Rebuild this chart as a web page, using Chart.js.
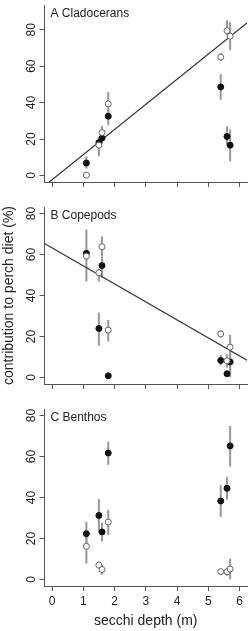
<!DOCTYPE html>
<html>
<head>
<meta charset="utf-8">
<script src="https://cdn.jsdelivr.net/npm/chart.js@4"></script>
<style>
  body { margin: 0; background: #fff; }
  .panel { position: absolute; left: 0; }
</style>
</head>
<body>
<canvas id="chartA" class="panel" style="top:0px" width="252" height="202"></canvas>
<canvas id="chartB" class="panel" style="top:202px" width="252" height="202"></canvas>
<canvas id="chartC" class="panel" style="top:404px" width="252" height="227"></canvas>
<script>
// secchi depth of the 7 lakes (m)
const secchi = [1.1, 1.5, 1.6, 1.8, 5.4, 5.6, 5.7];
const xTicks = [0, 1, 2, 3, 4, 5, 6];
const yTicks = [0, 20, 40, 60, 80];
const panelNames = ["A Cladocerans", "B Copepods", "C Benthos"];
const yTitle = "contribution to perch diet (%)";
const xTitle = "secchi depth (m)";

// A - cladocerans
const cladFilled = [6.8, 18, 20.5, 32.5, 48.6, 21.4, 16.6];
const cladFilledLo = [4, 15.5, 17.5, 27.7, 41.7, 17, 8];
const cladFilledHi = [10.2, 21, 24.5, 35.7, 55.4, 26.8, 25];
const cladOpen = [0.2, 16.6, 23.6, 39.3, 65, 79.5, 76.5];
const cladOpenLo = [0, 10.7, 20.5, 34, 63, 77.5, 69];
const cladOpenHi = [0.4, 20.5, 27, 45.6, 67, 85, 84];
const cladFit = [-2.4, 13.8]; // intercept, slope

// B - copepods
const copeFilled = [60.6, 23.9, 54.6, 0.8, 8.3, 1.8, 7.6];
const copeFilledLo = [47, 15.6, 49, 0.3, 6, 0.8, 3];
const copeFilledHi = [72, 31.5, 59, 1.2, 10.8, 2.8, 12];
const copeOpen = [59.2, 51.1, 63.8, 23.1, 21.2, 8.1, 14.8];
const copeOpenLo = [57.5, 47, 59.5, 17.7, 19.5, 5, 0];
const copeOpenHi = [61, 53, 68.6, 27.9, 23, 11, 20.5];
const copeFit = [63.3, -8.8];

// C - benthos
const benFilled = [22.3, 31.2, 23.2, 61.7, 38.3, 44.5, 65.2];
const benFilledLo = [16.9, 23.5, 18.8, 56.1, 30.7, 39.1, 55.3];
const benFilledHi = [28, 39.1, 27.5, 67.2, 45.8, 49.8, 74.7];
const benOpen = [16.2, 7, 4.8, 28, 3.8, 3.7, 5.1];
const benOpenLo = [8, 5.5, 2.5, 21.9, 3, 2, 0];
const benOpenHi = [21.1, 8.5, 7, 33.9, 4.5, 5.5, 10];

const xLim = [-0.24, 6.24];
const fontFam = "'Liberation Sans', Arial, sans-serif";
const inkColor = "#222";
const axisColor = "#555";
const errColor = "#9a9a9a";

const panelLabel = {
    id: "panelLabel",
    afterDraw(chart, args, opts) {
        const ctx = chart.ctx;
        const area = chart.chartArea;
        ctx.save();
        ctx.font = "12px " + fontFam;
        ctx.fillStyle = inkColor;
        ctx.textBaseline = "alphabetic";
        ctx.textAlign = "left";
        ctx.fillText(opts.text, area.left + 6, area.top + 12);
        ctx.restore();
    }
};

function pts(vals) {
    return secchi.map((x, i) => ({x: x, y: vals[i]}));
}
function bars(lo, hi) {
    return secchi.map((x, i) => ({x: x, y: [lo[i], hi[i]]}));
}
function fitLine(fit) {
    return xLim.map((x) => ({x: x, y: fit[0] + fit[1] * x}));
}

function makePanel(id, o) {
    const datasets = [
        {
            type: "bar",
            data: bars(o.filledLo, o.filledHi),
            backgroundColor: errColor,
            barThickness: 1.4,
            grouped: false,
            order: 5,
        },
        {
            type: "bar",
            data: bars(o.openLo, o.openHi),
            backgroundColor: errColor,
            barThickness: 1.4,
            grouped: false,
            order: 4,
        },
        {
            type: "scatter",
            data: pts(o.filled),
            backgroundColor: "#111",
            borderColor: "#111",
            borderWidth: 1,
            pointRadius: 3,
            order: 2,
        },
        {
            type: "scatter",
            data: pts(o.open),
            backgroundColor: "#fff",
            borderColor: "#666",
            borderWidth: 1,
            pointRadius: 3,
            order: 1,
        },
    ];
    if (o.fit) {
        datasets.push({
            type: "line",
            data: fitLine(o.fit),
            borderColor: "#333",
            borderWidth: 1.2,
            pointRadius: 0,
            fill: false,
            order: 3,
        });
    }
    new Chart(document.getElementById(id), {
        type: "scatter",
        data: {datasets: datasets},
        plugins: [panelLabel],
        options: {
            responsive: false,
            animation: false,
            layout: {padding: {top: 1, right: 4.5, left: 0, bottom: 0}},
            scales: {
                x: {
                    type: "linear",
                    offset: false,
                    min: xLim[0],
                    max: xLim[1],
                    afterBuildTicks: (s) => { s.ticks = xTicks.map((v) => ({value: v})); },
                    afterFit: (s) => { s.height = o.xHeight; s.paddingLeft = 0; s.paddingRight = 0; },
                    grid: {offset: false, drawOnChartArea: false, drawTicks: true, tickLength: 5, color: axisColor},
                    border: {display: true, color: axisColor, width: 1},
                    ticks: {
                        display: o.xLabels,
                        color: inkColor,
                        padding: 3,
                        maxRotation: 0,
                        font: {family: fontFam, size: 12},
                    },
                    title: {
                        display: o.xLabels,
                        text: xTitle,
                        color: inkColor,
                        padding: {top: 0, bottom: 1},
                        font: {family: fontFam, size: 14},
                    },
                },
                y: {
                    type: "linear",
                    beginAtZero: false,
                    min: o.yLim[0],
                    max: o.yLim[1],
                    afterBuildTicks: (s) => { s.ticks = yTicks.map((v) => ({value: v})); },
                    afterFit: (s) => { s.width = 44.5; s.paddingTop = 0; s.paddingBottom = 0; },
                    grid: {drawOnChartArea: false, drawTicks: true, tickLength: 5, color: axisColor},
                    border: {display: true, color: axisColor, width: 1},
                    ticks: {
                        color: inkColor,
                        minRotation: 90,
                        maxRotation: 90,
                        crossAlign: "center",
                        padding: 1.5,
                        autoSkip: false,
                        font: {family: fontFam, size: 12},
                    },
                    title: {
                        display: o.yTitle,
                        text: yTitle,
                        color: inkColor,
                        padding: {top: 0.6, bottom: 0},
                        font: {family: fontFam, size: 14},
                    },
                },
            },
            plugins: {
                legend: {display: false},
                tooltip: {enabled: false},
                panelLabel: {text: o.name},
            },
        },
    });
}

makePanel("chartA", {
    name: panelNames[0], yLim: [-3.6, 93.6], fit: cladFit, xLabels: false, yTitle: false, xHeight: 20,
    filled: cladFilled, filledLo: cladFilledLo, filledHi: cladFilledHi,
    open: cladOpen, openLo: cladOpenLo, openHi: cladOpenHi,
});
makePanel("chartB", {
    name: panelNames[1], yLim: [-3.2, 83.2], fit: copeFit, xLabels: false, yTitle: true, xHeight: 20,
    filled: copeFilled, filledLo: copeFilledLo, filledHi: copeFilledHi,
    open: copeOpen, openLo: copeOpenLo, openHi: copeOpenHi,
});
makePanel("chartC", {
    name: panelNames[2], yLim: [-3.2, 83.2], fit: null, xLabels: true, yTitle: false, xHeight: 45,
    filled: benFilled, filledLo: benFilledLo, filledHi: benFilledHi,
    open: benOpen, openLo: benOpenLo, openHi: benOpenHi,
});
</script>
</body>
</html>
